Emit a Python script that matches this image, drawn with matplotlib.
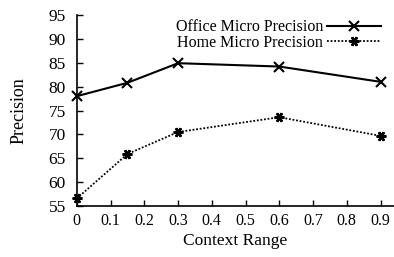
import matplotlib
matplotlib.use("Agg")
import matplotlib.pyplot as plt

context_range = [0, 0.15, 0.3, 0.6, 0.9]
office_precision = [78.0, 80.8, 84.9, 84.2, 81.0]
home_precision = [56.6, 65.9, 70.5, 73.6, 69.7]
x_ticks = [0, 0.1, 0.2, 0.3, 0.4, 0.5, 0.6, 0.7, 0.8, 0.9]
y_ticks = [55, 60, 65, 70, 75, 80, 85, 90, 95]

plt.rcParams["font.family"] = ["Liberation Serif", "DejaVu Serif"]
plt.rcParams["font.size"] = 11

fig = plt.figure(figsize=(3.94, 2.57), dpi=100)
ax = fig.add_axes([0.195, 0.198, 0.805, 0.744])

ax.plot(context_range, office_precision, color="black", lw=1.5, ls="-",
        marker="x", ms=6.5, mew=1.5, clip_on=False,
        label="Office Micro Precision")
ax.plot(context_range, home_precision, color="black", lw=1.3, ls=(0, (1, 1)),
        marker=(6, 2, 90), ms=7, mew=1.8, clip_on=False,
        label="Home Micro Precision")

ax.set_xlim(0, 0.94)
ax.set_ylim(55, 95)
ax.set_xticks(x_ticks)
ax.set_xticklabels([str(t) for t in x_ticks])
ax.set_yticks(y_ticks)
ax.tick_params(direction="in", length=4, width=1)
ax.tick_params(axis="x", pad=5, labelsize=11.5)
ax.tick_params(axis="y", pad=8, labelsize=12.5)
ax.spines["top"].set_visible(False)
ax.spines["right"].set_visible(False)
ax.spines["left"].set_linewidth(1.2)
ax.spines["bottom"].set_linewidth(1.2)

ax.set_xlabel("Context Range", fontsize=12.5, labelpad=3)
ax.set_ylabel("Precision", fontsize=13, labelpad=15)

ax.legend(loc="upper right", bbox_to_anchor=(0.995, 1.035), frameon=False,
          markerfirst=False, handlelength=3.4, handletextpad=0.25,
          labelspacing=-0.05, fontsize=11.5, borderpad=0.2)

fig.savefig("out.png", dpi=100)
